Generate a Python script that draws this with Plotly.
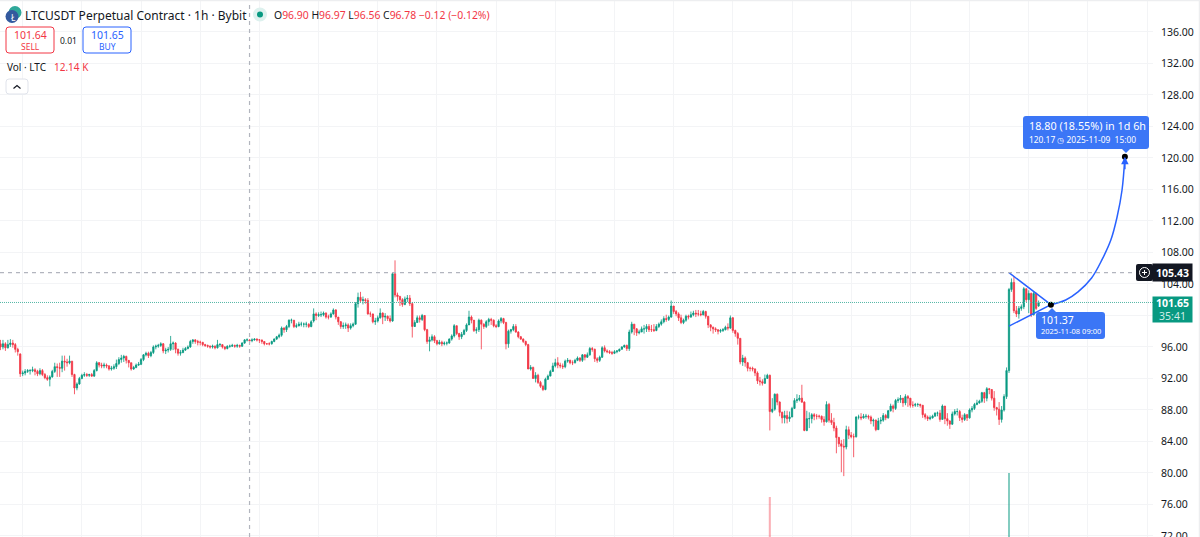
import pandas as pd
import plotly.graph_objects as go

# LTCUSDT 1h, 2025-10-21 15:00 onwards, one row per day
opens = [
    96.4,96.0,96.4,95.9,96.3,96.5,96.3,95.7,95.1,
    92.6,92.7,92.9,93.0,93.0,93.1,92.9,92.6,93.0,92.5,92.1,91.9,92.2,92.9,93.5,93.4,93.3,94.2,94.1,94.0,94.2,92.5,90.8,91.3,
    92.0,92.4,92.5,92.4,92.5,92.3,93.0,94.0,93.7,93.6,93.7,93.6,93.2,93.3,93.5,93.9,94.4,94.6,94.8,94.3,94.0,93.2,93.4,93.7,
    93.8,94.4,95.0,95.2,94.9,95.3,96.0,96.1,96.2,96.4,95.5,95.6,95.7,96.4,96.5,95.7,95.2,95.3,95.6,95.8,96.0,96.7,96.9,96.7,
    96.6,96.6,96.3,96.2,96.1,96.0,96.1,95.9,96.3,96.3,96.0,95.8,96.1,96.1,96.2,96.1,96.2,96.1,96.5,96.9,96.9,96.8,96.9,97.0,
    96.9,96.9,96.7,96.4,96.4,96.4,96.7,97.0,97.3,97.5,98.4,98.2,98.6,99.4,99.4,98.6,98.7,98.9,98.9,98.9,98.9,98.6,99.3,100.2,
    100.0,100.1,100.1,100.3,99.8,99.8,100.2,100.7,99.8,99.2,98.6,98.7,98.8,98.4,98.7,98.9,101.5,102.3,101.9,102.0,101.9,100.2,100.2,99.2,
    99.3,99.7,100.3,99.8,99.9,99.6,99.3,105.3,102.6,102.4,102.0,101.4,102.1,102.2,101.5,98.6,99.1,99.7,99.5,100.0,98.2,96.7,96.9,97.3,
    96.8,96.4,96.6,96.4,96.5,96.5,97.0,97.4,98.7,97.7,97.3,97.6,98.1,98.8,99.8,99.4,98.1,98.2,99.4,98.9,98.6,99.2,99.5,99.4,
    98.7,98.6,99.3,99.6,99.1,96.4,98.0,98.2,98.6,97.9,97.3,97.0,96.7,96.3,93.2,93.4,92.0,92.4,91.5,91.0,90.6,91.9,92.3,92.9,
    93.6,94.0,93.7,93.6,93.5,94.2,94.3,94.0,94.0,94.3,94.6,94.3,95.0,94.7,95.0,95.8,95.7,94.5,94.3,94.7,95.9,95.5,95.4,95.3,
    95.2,95.4,95.5,95.7,96.0,96.2,95.8,97.9,98.9,98.3,97.8,97.9,98.3,98.3,98.6,98.2,98.2,98.1,98.6,98.9,99.2,99.6,99.5,99.8,
    101.2,100.5,100.2,99.7,99.1,99.4,99.9,99.8,100.1,100.3,100.2,100.2,100.1,100.5,99.9,98.8,98.5,98.3,98.2,98.0,98.1,98.2,98.5,98.4,
    99.7,98.1,97.7,97.1,94.1,94.6,94.0,93.3,93.3,93.2,92.7,91.7,91.6,91.4,92.0,92.4,87.8,88.1,90.0,89.0,87.7,87.0,87.3,86.9,
    87.1,88.2,89.2,89.3,89.5,89.0,85.4,86.9,86.9,87.4,87.2,87.2,87.2,86.8,86.5,88.7,86.7,86.4,85.7,84.5,83.7,83.4,83.3,85.5,
    84.8,84.6,84.6,87.1,87.1,87.0,87.2,87.2,87.1,86.6,86.7,85.5,86.6,86.7,87.3,87.0,87.9,88.5,88.2,89.2,89.3,89.5,88.9,89.7,
    89.5,88.6,88.6,88.7,88.7,88.6,87.4,87.1,86.9,87.0,87.2,87.6,87.6,86.8,88.5,86.9,86.6,86.2,87.5,87.8,87.8,87.0,86.8,87.4,
    87.0,88.0,88.2,88.7,88.9,89.1,90.2,89.5,90.7,90.6,89.5,88.3,88.1,86.8,88.0,89.7,93.0,103.3,104.2,100.6,100.2,100.9,101.1,103.4,
    102.0,102.8,100.1,102.8,101.2,
]
highs = [
    96.9,96.9,96.6,96.9,97.0,96.9,96.5,95.9,95.2,
    93.0,93.2,93.2,93.2,93.5,93.3,93.1,93.3,93.2,92.7,92.4,92.4,93.1,94.0,93.9,94.0,94.9,94.9,94.5,94.9,94.2,92.6,91.5,92.2,
    92.6,92.8,92.7,92.6,92.7,93.2,94.2,94.1,94.0,94.0,93.9,93.7,93.6,93.8,94.4,94.7,95.0,95.0,94.9,94.3,94.0,93.6,93.9,94.1,
    94.6,95.1,95.4,95.4,95.5,96.2,96.3,96.4,96.6,96.5,95.9,96.0,97.4,96.7,96.6,95.8,95.6,95.9,96.0,96.2,96.9,97.0,97.0,96.9,
    96.8,96.6,96.4,96.3,96.2,96.3,96.2,96.9,96.5,96.3,96.1,96.2,96.3,96.4,96.3,96.4,96.3,96.6,97.0,97.1,96.97,97.1,97.1,97.1,
    97.0,96.9,96.7,96.5,96.6,96.8,97.1,97.4,97.7,98.6,98.5,98.8,99.5,99.6,99.4,99.0,99.2,99.2,99.1,99.2,99.0,99.4,100.9,100.4,
    100.4,100.5,100.5,100.4,100.1,100.4,100.9,100.8,99.8,99.3,99.1,99.1,99.0,99.0,99.1,101.7,102.9,103.0,102.4,102.2,102.2,100.5,99.6,99.7,
    100.0,100.9,100.4,100.3,100.0,100.0,105.5,107.0,102.9,102.5,102.2,102.4,102.6,102.6,101.7,99.4,100.0,100.0,100.2,100.0,98.3,97.3,97.6,97.5,
    96.9,96.9,96.8,96.7,96.7,97.1,97.6,98.9,98.7,97.8,97.9,98.3,99.0,100.6,100.0,99.3,98.5,99.6,99.5,99.0,99.4,99.7,99.7,99.5,
    98.9,99.5,99.8,99.7,99.2,98.2,98.3,98.9,98.9,98.0,97.4,97.1,96.8,96.4,93.7,93.5,92.8,92.6,91.7,91.2,92.1,92.5,93.1,94.0,
    94.5,94.7,94.0,93.9,94.4,94.6,94.4,94.3,94.5,94.8,94.7,95.1,95.1,95.3,96.0,96.0,95.8,94.7,94.9,96.1,96.2,95.7,95.6,95.5,
    95.6,95.6,95.8,96.1,96.3,96.3,98.2,99.2,98.9,98.4,98.2,98.6,98.8,98.9,98.9,98.8,98.9,98.9,99.1,99.5,99.9,100.1,100.0,101.9,
    101.2,100.7,100.4,100.1,99.6,100.1,100.1,100.5,100.6,100.7,100.7,100.6,100.7,100.6,99.9,98.9,98.6,98.5,98.2,98.3,98.4,98.7,99.0,100.0,
    99.8,98.2,97.9,97.1,95.0,94.8,94.1,93.5,93.5,93.3,92.9,92.2,91.9,92.5,92.6,92.5,89.5,90.1,90.1,89.1,87.8,87.9,87.9,87.8,
    88.4,89.5,90.0,89.9,91.2,89.1,87.9,87.7,87.6,87.6,87.5,87.4,87.3,87.2,89.1,88.9,87.6,87.0,86.0,84.6,84.2,84.3,86.0,85.9,
    85.2,85.0,87.2,87.4,87.6,87.5,87.5,87.4,87.3,86.9,86.8,87.0,87.1,87.6,87.5,88.0,88.8,88.7,89.4,89.6,89.9,89.4,90.0,89.9,
    89.4,89.1,88.9,88.9,88.8,88.6,87.6,87.3,87.3,87.4,87.7,87.8,88.0,88.7,88.5,87.6,86.7,87.8,88.1,88.2,88.0,87.4,87.6,87.5,
    88.2,88.5,88.9,89.3,89.3,90.3,90.3,90.9,90.8,90.6,90.4,88.4,89.0,88.5,90.0,93.4,103.5,104.7,105.0,101.2,101.2,101.4,103.6,103.4,
    103.2,102.9,103.0,102.9,101.9,
]
lows = [
    95.6,95.7,95.5,95.8,96.0,95.9,95.3,94.9,92.2,
    92.3,92.4,92.7,92.5,92.8,92.4,92.3,92.4,92.3,91.9,91.7,91.0,92.1,92.7,92.2,92.2,92.8,93.0,93.5,93.8,92.2,90.0,90.5,91.2,
    91.9,92.2,92.2,92.2,92.2,92.2,92.9,93.4,93.3,93.3,93.3,93.0,93.0,93.1,93.2,93.7,94.0,94.1,93.9,93.4,93.0,93.1,93.3,93.6,
    93.7,94.2,94.8,94.6,94.7,95.1,95.7,95.9,96.0,95.2,95.1,95.3,95.5,95.6,95.2,94.9,94.9,95.2,95.5,95.7,95.9,96.4,96.4,96.2,
    96.2,96.1,96.0,95.9,95.8,95.8,95.7,95.8,96.0,95.8,95.6,95.7,95.9,96.0,95.9,95.9,95.9,96.0,96.4,96.7,96.56,96.6,96.8,96.7,
    96.5,96.4,96.2,96.3,96.2,96.3,96.6,96.9,97.1,97.3,97.8,97.9,98.4,99.0,98.4,98.4,98.6,98.6,98.5,98.5,98.4,98.5,99.1,99.4,
    99.8,99.8,99.9,99.6,99.5,99.7,100.1,99.5,98.8,98.3,98.3,98.3,97.9,98.2,98.5,98.8,101.0,101.6,101.4,101.5,100.1,99.8,99.0,98.8,
    99.1,99.6,98.9,99.3,99.3,99.1,99.2,102.3,101.8,101.2,101.1,101.3,101.7,101.2,97.2,98.7,99.1,99.1,99.3,98.0,96.4,95.45,96.7,96.5,
    96.2,96.3,96.1,96.2,96.2,96.4,96.8,97.2,97.5,96.9,97.0,97.5,97.9,98.9,99.0,97.9,97.7,97.9,95.7,98.3,98.4,98.7,98.8,98.5,
    98.4,98.5,99.0,98.9,95.7,95.9,97.7,98.0,97.8,97.1,96.9,96.5,96.1,96.0,93.0,92.9,91.5,91.3,90.8,90.4,90.5,91.8,92.6,93.2,
    93.4,93.3,93.3,93.2,93.3,94.0,93.8,93.7,93.9,94.2,94.1,94.1,94.3,94.6,94.9,95.4,94.1,94.0,94.1,94.6,95.3,95.2,95.1,95.0,
    95.1,95.2,95.4,95.7,95.9,95.5,95.5,97.7,97.5,97.4,97.6,97.9,97.7,97.9,97.9,97.9,97.9,98.0,98.4,98.7,99.0,99.2,99.3,99.7,
    100.2,99.9,99.3,98.9,98.9,99.2,99.5,99.7,99.9,99.8,99.9,99.9,100.0,99.6,98.4,98.0,97.7,97.9,97.6,97.8,97.9,98.1,98.1,98.3,
    97.8,97.3,96.3,93.8,93.6,93.5,92.9,92.9,92.9,92.3,91.3,91.1,91.1,91.3,92.0,85.4,87.6,87.9,88.6,87.2,86.3,86.3,86.3,86.5,
    87.1,88.4,88.9,89.1,88.9,85.3,85.3,85.7,86.3,86.7,86.8,86.9,86.4,86.0,86.4,86.4,86.1,85.3,82.5,83.3,80.1,79.6,83.0,84.3,
    84.4,82.0,84.5,86.8,86.7,86.9,86.9,86.8,86.2,85.9,85.3,85.5,86.2,86.5,86.7,86.9,87.8,87.7,88.0,88.9,88.9,88.4,88.6,88.4,
    88.3,88.3,88.4,88.4,88.3,87.0,86.8,86.6,86.7,86.9,87.2,87.2,86.5,86.8,86.2,86.0,85.6,86.1,87.3,87.3,86.6,86.4,86.6,86.6,
    86.9,87.7,88.0,88.6,88.8,88.9,88.9,89.1,90.0,89.2,87.9,87.3,86.1,86.4,87.8,89.4,92.7,103.0,100.3,99.8,99.6,100.6,100.8,101.7,
    100.3,99.8,100.0,100.7,101.1,
]
closes = [
    96.0,96.4,95.9,96.3,96.5,96.3,95.7,95.4,92.6,
    92.7,92.9,93.0,93.0,93.1,92.9,92.6,93.0,92.5,92.1,91.9,92.2,92.9,93.5,93.4,93.3,94.2,94.1,94.0,94.2,92.5,90.8,91.3,92.0,
    92.4,92.5,92.4,92.5,92.3,93.0,94.0,93.7,93.6,93.7,93.6,93.2,93.3,93.5,93.9,94.4,94.6,94.8,94.3,94.0,93.2,93.4,93.7,93.8,
    94.4,95.0,95.2,94.9,95.3,96.0,96.1,96.2,96.4,95.5,95.6,95.7,96.4,96.5,95.7,95.2,95.3,95.6,95.8,96.0,96.7,96.9,96.7,96.6,
    96.6,96.3,96.2,96.1,96.0,96.1,95.9,96.3,96.3,96.0,95.8,96.1,96.1,96.2,96.1,96.2,96.1,96.5,96.9,96.9,96.78,96.9,97.0,96.9,
    96.9,96.7,96.4,96.4,96.4,96.7,97.0,97.3,97.5,98.4,98.2,98.6,99.4,99.4,98.6,98.7,98.9,98.9,98.9,98.9,98.6,99.2,100.2,100.0,
    100.1,100.1,100.3,99.8,99.8,100.2,100.7,99.8,99.2,98.6,98.7,98.8,98.4,98.7,98.9,101.5,102.3,101.9,102.0,101.9,100.2,100.2,99.2,99.3,
    99.7,100.3,99.8,99.9,99.6,99.3,105.3,102.6,102.4,102.0,101.4,102.1,102.2,101.5,98.6,99.1,99.7,99.5,100.0,98.2,96.7,96.9,97.3,96.8,
    96.4,96.6,96.4,96.5,96.5,97.0,97.4,98.7,97.7,97.3,97.6,98.1,98.8,99.8,99.4,98.1,98.2,99.4,98.9,98.6,99.2,99.5,99.4,98.7,
    98.6,99.3,99.6,99.1,96.4,98.0,98.2,98.6,97.9,97.3,97.0,96.7,96.3,93.2,93.4,92.0,92.4,91.5,91.0,90.6,91.9,92.3,92.9,93.6,
    94.0,93.7,93.6,93.5,94.2,94.3,94.0,94.0,94.3,94.6,94.3,95.0,94.7,95.0,95.8,95.7,94.5,94.3,94.7,95.9,95.5,95.4,95.3,95.2,
    95.4,95.5,95.7,96.0,96.2,95.8,97.9,98.9,98.3,97.8,97.9,98.3,98.3,98.6,98.2,98.2,98.1,98.6,98.9,99.2,99.6,99.5,99.8,101.2,
    100.5,100.2,99.7,99.1,99.4,99.9,99.8,100.1,100.3,100.2,100.2,100.1,100.5,99.9,98.8,98.5,98.3,98.2,98.0,98.1,98.2,98.5,98.4,99.7,
    98.1,97.7,97.1,94.1,94.6,94.0,93.3,93.3,93.2,92.7,91.7,91.6,91.4,92.0,92.4,87.8,88.1,90.0,89.0,87.7,87.0,87.3,86.9,87.1,
    88.2,89.2,89.3,89.5,89.0,85.4,86.9,86.9,87.4,87.2,87.2,87.2,86.8,86.5,88.7,86.7,86.4,85.7,84.5,83.7,83.4,83.3,85.5,84.8,
    84.6,84.6,87.1,87.1,87.0,87.2,87.2,87.1,86.6,86.7,85.5,86.6,86.7,87.3,87.0,87.9,88.5,88.2,89.2,89.3,89.5,88.9,89.7,89.5,
    88.6,88.6,88.7,88.7,88.6,87.4,87.1,86.9,87.0,87.2,87.6,87.6,86.8,88.5,86.9,86.6,86.2,87.5,87.8,87.8,87.0,86.8,87.4,87.0,
    88.0,88.2,88.7,88.9,89.1,90.2,89.5,90.7,90.6,89.5,88.3,88.1,86.8,88.0,89.7,93.0,103.3,104.2,100.6,100.2,100.9,101.1,103.4,102.0,
    102.8,100.1,102.8,100.9,101.65,
]

# only the two volume spikes reach above the bottom of the crop
vol_times = ["2025-11-03 15:00", "2025-11-07 16:00"]
vol_values = [190000, 235000]
vol_colors = ["rgba(242,54,69,0.4)", "rgba(8,153,129,0.5)"]

price_ticks = [136, 132, 128, 124, 120, 116, 112, 108, 104, 100, 96, 92, 88, 84, 80, 76, 72]

# drawing tools
triangle_x = ["2025-11-07 16:00", "2025-11-08 09:00", "2025-11-07 16:00"]
triangle_y = [105.43, 101.37, 98.65]
curve_x = ["2025-11-08 09:00", "2025-11-08 15:00", "2025-11-08 20:00", "2025-11-09 01:30", "2025-11-09 05:40",
           "2025-11-09 09:20", "2025-11-09 11:50", "2025-11-09 13:50", "2025-11-09 15:00"]
curve_y = [101.37, 101.97, 103.0, 104.76, 107.05, 109.6, 112.5, 115.9, 120.17]
dots_x = ["2025-11-08 09:00", "2025-11-09 15:00"]
dots_y = [101.37, 120.17]

last_price = 101.65
cross_price = 105.43
cross_time = "2025-10-25 20:00"

GREEN = "#089981"
RED = "#F23645"
BLUE = "#3B76F6"
LINE_BLUE = "#2962FF"
INK = "#131722"
FONT = "Noto Sans"
W, H = 1200, 537
PLOT_W = 1153

times = pd.date_range("2025-10-21 15:00", periods=len(closes), freq="h")


def px(x):
    return x / PLOT_W


def py(y):
    return 1 - y / H


def rbox(x0, y0, x1, y1, r=3):
    a, b, c, d = px(x0), px(x1), py(y0), py(y1)
    rx, ry = r / PLOT_W, r / H
    return (f"M{a+rx},{c} L{b-rx},{c} Q{b},{c} {b},{c-ry} L{b},{d+ry} Q{b},{d} {b-rx},{d} "
            f"L{a+rx},{d} Q{a},{d} {a},{d+ry} L{a},{c-ry} Q{a},{c} {a+rx},{c} Z")


def poly(points):
    return "M" + " L".join(f"{px(x)},{py(y)}" for x, y in points)


def path_shape(path, fill="rgba(0,0,0,0)", line=None, width=1):
    return dict(type="path", xref="paper", yref="paper", path=path, fillcolor=fill,
                line=dict(color=line or "rgba(0,0,0,0)", width=width), layer="above")


def circle(cx, cy, r, fill, line=None, width=1):
    return dict(type="circle", xref="paper", yref="paper", x0=px(cx - r), x1=px(cx + r),
                y0=py(cy + r), y1=py(cy - r), fillcolor=fill,
                line=dict(color=line or "rgba(0,0,0,0)", width=width), layer="above")


def label(x, y, text, size, color=INK, anchor="left", family=FONT):
    return dict(xref="paper", yref="paper", x=px(x), y=py(y), text=text, showarrow=False,
                xanchor=anchor, yanchor="middle", borderpad=0,
                font=dict(size=size, color=color, family=family))


fig = go.Figure()

fig.add_trace(go.Bar(x=vol_times, y=vol_values, marker=dict(color=vol_colors, line=dict(width=0)),
                     width=3000000, yaxis="y2"))

fig.add_trace(go.Candlestick(
    x=times, open=opens, high=highs, low=lows, close=closes,
    increasing=dict(line=dict(color=GREEN, width=0.8), fillcolor=GREEN),
    decreasing=dict(line=dict(color=RED, width=0.8), fillcolor=RED),
    whiskerwidth=0,
))

fig.add_trace(go.Scatter(x=triangle_x, y=triangle_y, mode="lines", line=dict(color=LINE_BLUE, width=1.5)))
fig.add_trace(go.Scatter(x=curve_x, y=curve_y, mode="lines", line=dict(color=LINE_BLUE, width=1.5, shape="spline")))
fig.add_trace(go.Scatter(x=dots_x, y=dots_y, mode="markers", marker=dict(color="black", size=6)))

shapes = [
    # crosshair and last price
    dict(type="line", xref="paper", yref="y", x0=0, x1=1, y0=cross_price, y1=cross_price,
         line=dict(color="#B2B5BE", width=1.2, dash="4px,4px")),
    dict(type="line", xref="x", yref="paper", x0=cross_time, x1=cross_time, y0=0, y1=1,
         line=dict(color="#B2B5BE", width=1.2, dash="4px,4px")),
    dict(type="line", xref="paper", yref="y", x0=0, x1=1, y0=last_price, y1=last_price,
         line=dict(color="#55B8A6", width=1, dash="1px,1px")),
    # window edge
    path_shape(poly([(0, 0.5), (1200, 0.5)]), line="#EDEEF0", width=1.5),
    path_shape(poly([(1199.5, 0), (1199.5, 537)]), line="#EDEEF0", width=1.5),
    # symbol logo
    circle(15, 12.5, 6.5, "#2FA89A"),
    circle(12, 16.5, 6.5, "#33599E"),
    # status dot
    circle(260, 14.5, 7, "#DDF1EE"),
    circle(260, 14.5, 3, GREEN),
    # sell / buy
    path_shape(rbox(6, 27, 54, 53), "white", RED),
    path_shape(rbox(83, 27, 131, 53), "white", LINE_BLUE),
    # collapse button
    path_shape(rbox(6, 79, 28, 94), "white", "#E0E3EB"),
    path_shape(poly([(13.5, 88.5), (17, 85.5), (20.5, 88.5)]), line=INK, width=1.2),
    # tool labels
    path_shape(rbox(1023, 116, 1149, 149), BLUE),
    path_shape(poly([(1122, 149), (1126, 153), (1130, 149)]) + " Z", BLUE),
    path_shape(rbox(1036, 312, 1105, 339), BLUE),
    path_shape(poly([(1048, 312), (1052, 308), (1056, 312)]) + " Z", BLUE),
    # crosshair plus button
    path_shape(rbox(1136, 264, 1153, 281, 2), "#131722"),
    circle(1144.5, 272.5, 5, "rgba(0,0,0,0)", "white", 1),
    path_shape(poly([(1142, 272.5), (1147, 272.5)]), line="white"),
    path_shape(poly([(1144.5, 270), (1144.5, 275)]), line="white"),
]

ohlc = ('<span style="color:#131722">O</span>96.90 <span style="color:#131722">H</span>96.97 '
        '<span style="color:#131722">L</span>96.56 <span style="color:#131722">C</span>96.78 '
        '−0.12 (−0.12%)')

annotations = [
    label(24, 15, "LTCUSDT Perpetual Contract · 1h · Bybit", 12),
    label(9.5, 17, "Ł", 8.5, "white"),
    label(273, 15, ohlc, 10.4, RED),
    label(30, 35, "101.64", 10.5, RED, "center"),
    label(30, 46, "SELL", 8.5, RED, "center"),
    label(68, 40, "0.01", 8.5, INK, "center"),
    label(107, 35, "101.65", 10.5, LINE_BLUE, "center"),
    label(107, 46, "BUY", 8.5, LINE_BLUE, "center"),
    label(6, 67, "Vol · LTC", 10),
    label(53, 67, "12.14 K", 10, RED),
    label(1028, 125, "18.80 (18.55%) in 1d 6h", 10.8, "white"),
    label(1028, 139, "120.17 ◷ 2025-11-09  15:00", 8.4, "white"),
    label(1040, 320, "101.37", 10.5, "white"),
    label(1040, 331, "2025-11-08 09:00", 7.5, "white"),
    # price tags sit on the axis labels
    dict(xref="paper", yref="y", x=px(1172.5), y=cross_price, text="<b>105.43</b>", showarrow=False,
         xanchor="center", bgcolor="#131722", width=39, height=17,
         font=dict(size=10.5, color="white", family=FONT), borderpad=0),
    dict(xref="paper", yref="y", x=px(1172.5), y=last_price - 0.85,
         text='<b>101.65</b><br><span style="color:#CFEDE7">35:41</span>', showarrow=False,
         xanchor="center", bgcolor=GREEN, width=39, height=25,
         font=dict(size=10.5, color="white", family=FONT), borderpad=0),
    # arrow head of the projection
    dict(x=dots_x[1], y=dots_y[1], xref="x", yref="y", ax=0, ay=14, text="", showarrow=True,
         arrowhead=2, arrowsize=1, arrowwidth=1.5, arrowcolor=LINE_BLUE),
]

fig.update_layout(
    width=W, height=H,
    margin=dict(l=0, r=W - PLOT_W, t=0, b=0, autoexpand=False),
    plot_bgcolor="white", paper_bgcolor="white",
    showlegend=False, boxgap=0.25,
    font=dict(family=FONT, color=INK),
    shapes=shapes, annotations=annotations,
    xaxis=dict(type="date", range=["2025-10-21 14:48", "2025-11-10 02:24"], rangeslider=dict(visible=False),
               tick0="2025-10-22", dtick=86400000, showticklabels=False, ticks="",
               showgrid=True, gridcolor="#F3F4F6", gridwidth=1, zeroline=False),
    # the 100 label is hidden behind the last price tag
    yaxis=dict(range=[71.87, 140.06], side="right", tickvals=price_ticks, automargin=False,
               ticktext=["" if v == 100 else f"{v:.2f}" for v in price_ticks],
               ticks="", ticklabelstandoff=7, ticklabeloverflow="allow",
               tickfont=dict(size=10.5, color=INK, family=FONT),
               showgrid=True, gridcolor="#F3F4F6", gridwidth=1, zeroline=False),
    yaxis2=dict(overlaying="y", range=[115000, 1122000], visible=False),
)

fig.write_html("out.html", config={"displayModeBar": False}, post_script="document.body.style.margin='0';")
